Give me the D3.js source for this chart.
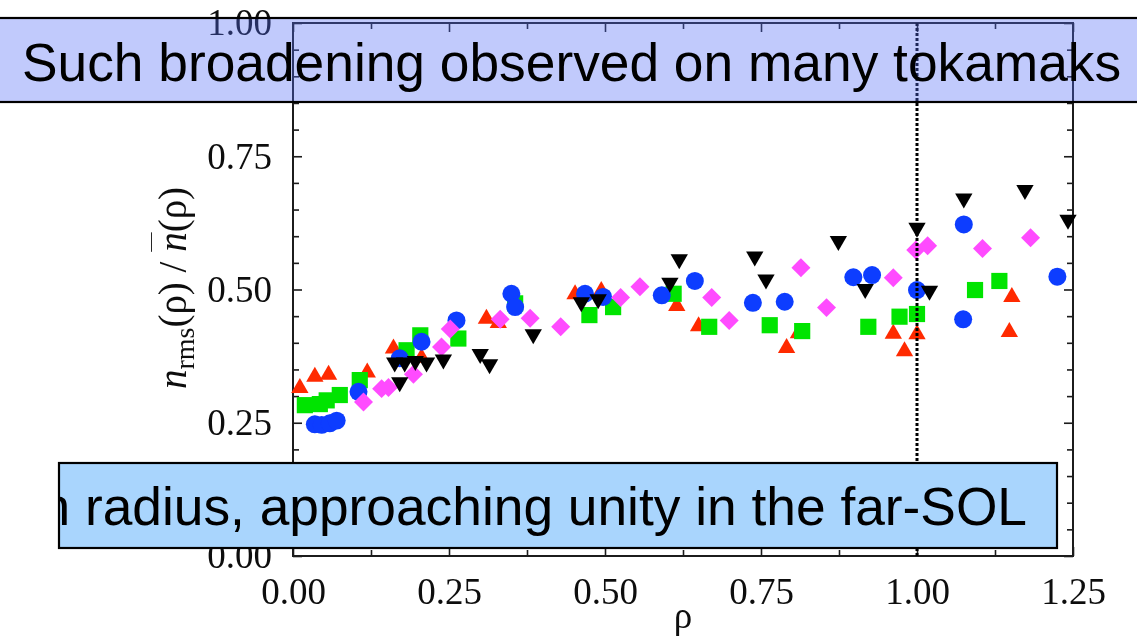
<!DOCTYPE html>
<html>
<head>
<meta charset="utf-8">
<script src="https://cdn.jsdelivr.net/npm/d3@7"></script>
<style>
  html, body { margin: 0; padding: 0; background: #ffffff; }
  svg { display: block; }
</style>
</head>
<body>
<svg id="chart" width="1137" height="639"></svg>
<script>
// Normalised density fluctuation level n_rms / n̄ versus normalised radius ρ
const xTicks = [0, 0.25, 0.5, 0.75, 1.0, 1.25];
const xTickLabels = ["0.00", "0.25", "0.50", "0.75", "1.00", "1.25"];
const yTicks = [0, 0.25, 0.5, 0.75, 1.0];
const yTickLabels = ["0.00", "0.25", "0.50", "0.75", "1.00"];
const separatrix = 1.0;

// [ρ, n_rms/n̄] pairs per device
const redTriangles = [
  [0.011, 0.317], [0.035, 0.338], [0.057, 0.342], [0.119, 0.346], [0.161, 0.391],
  [0.206, 0.374], [0.310, 0.447], [0.329, 0.439], [0.452, 0.493], [0.494, 0.499],
  [0.615, 0.471], [0.650, 0.433], [0.791, 0.392], [0.810, 0.420], [0.962, 0.419],
  [0.980, 0.386], [1.000, 0.418], [1.152, 0.488], [1.148, 0.422]
];
const greenSquares = [
  [0.019, 0.283], [0.043, 0.285], [0.054, 0.292], [0.075, 0.302], [0.107, 0.330],
  [0.182, 0.386], [0.204, 0.414], [0.265, 0.408], [0.356, 0.474], [0.475, 0.452],
  [0.513, 0.467], [0.610, 0.492], [0.667, 0.430], [0.764, 0.433], [0.816, 0.422],
  [0.922, 0.430], [0.972, 0.449], [1.000, 0.454], [1.093, 0.499], [1.132, 0.516]
];
const blueCircles = [
  [0.035, 0.247], [0.046, 0.246], [0.059, 0.249], [0.070, 0.254], [0.105, 0.308],
  [0.171, 0.371], [0.206, 0.402], [0.262, 0.442], [0.350, 0.492], [0.356, 0.467],
  [0.468, 0.492], [0.497, 0.486], [0.591, 0.489], [0.644, 0.516], [0.737, 0.475],
  [0.788, 0.477], [0.898, 0.523], [0.928, 0.527], [1.000, 0.499], [1.075, 0.622],
  [1.074, 0.444], [1.225, 0.524]
];
const magentaDiamonds = [
  [0.113, 0.289], [0.142, 0.314], [0.153, 0.316], [0.193, 0.341], [0.238, 0.392],
  [0.252, 0.426], [0.332, 0.444], [0.380, 0.446], [0.429, 0.430], [0.525, 0.485],
  [0.556, 0.505], [0.671, 0.485], [0.699, 0.442], [0.814, 0.541], [0.855, 0.466],
  [0.962, 0.522], [0.998, 0.574], [1.017, 0.582], [1.105, 0.577], [1.182, 0.597]
];
const blackTriangles = [
  [0.163, 0.361], [0.179, 0.361], [0.196, 0.364], [0.214, 0.361], [0.171, 0.324],
  [0.241, 0.367], [0.300, 0.377], [0.315, 0.358], [0.385, 0.414], [0.462, 0.474],
  [0.489, 0.480], [0.604, 0.511], [0.619, 0.555], [0.740, 0.560], [0.758, 0.517],
  [0.874, 0.589], [0.917, 0.499], [1.000, 0.614], [1.020, 0.496], [1.075, 0.669],
  [1.173, 0.685], [1.242, 0.629]
];

const topBannerText = "Such broadening observed on many tokamaks";
const bottomBannerText = "with radius, approaching unity in the far-SOL";

const svg = d3.select("#chart");
const plot = { left: 293, right: 1073, top: 23, bottom: 556 };

const x = d3.scaleLinear().domain([0, 1.25]).range([plot.left, plot.right]);
const y = d3.scaleLinear().domain([0, 1.0]).range([plot.bottom, plot.top]);

const serif = "'Liberation Serif', 'Times New Roman', serif";
const sans = "'Liberation Sans', Arial, sans-serif";
const frameColor = "#1a1a1a";

// the plotted figure is a slightly soft raster
svg.append("defs").append("filter").attr("id", "soft")
  .attr("x", "-5%").attr("y", "-5%").attr("width", "110%").attr("height", "110%")
  .append("feGaussianBlur").attr("stdDeviation", 0.55);

const chart = svg.append("g").attr("class", "chart").attr("filter", "url(#soft)");

// minor ticks
const xMinor = d3.range(0, 1.2501, 0.125).filter(v => !xTicks.some(t => Math.abs(t - v) < 1e-6));
const yMinor = d3.range(0, 1.0001, 0.05).filter(v => !yTicks.some(t => Math.abs(t - v) < 1e-6));

function styleAxis(g) {
  g.select(".domain").remove();
  g.selectAll("line").attr("stroke", frameColor).attr("stroke-width", 1.6);
  g.selectAll("text").attr("fill", "#111").attr("font-family", serif).attr("font-size", 37);
}

const fmtX = (d, i) => xTickLabels[i];
const fmtY = (d, i) => yTickLabels[i];

chart.append("g").attr("transform", `translate(0,${plot.bottom})`)
  .call(d3.axisBottom(x).tickValues(xTicks).tickFormat(fmtX).tickSizeInner(-9).tickSizeOuter(0).tickPadding(22))
  .call(styleAxis);
chart.append("g").attr("transform", `translate(0,${plot.bottom})`)
  .call(d3.axisBottom(x).tickValues(xMinor).tickFormat("").tickSizeInner(-6).tickSizeOuter(0))
  .call(styleAxis);
chart.append("g").attr("transform", `translate(0,${plot.top})`)
  .call(d3.axisTop(x).tickValues(xTicks).tickFormat("").tickSizeInner(-9).tickSizeOuter(0))
  .call(styleAxis);
chart.append("g").attr("transform", `translate(0,${plot.top})`)
  .call(d3.axisTop(x).tickValues(xMinor).tickFormat("").tickSizeInner(-6).tickSizeOuter(0))
  .call(styleAxis);
chart.append("g").attr("transform", `translate(${plot.left},0)`)
  .call(d3.axisLeft(y).tickValues(yTicks).tickFormat(fmtY).tickSizeInner(-9).tickSizeOuter(0).tickPadding(21))
  .call(styleAxis);
chart.append("g").attr("transform", `translate(${plot.left},0)`)
  .call(d3.axisLeft(y).tickValues(yMinor).tickFormat("").tickSizeInner(-6).tickSizeOuter(0))
  .call(styleAxis);
chart.append("g").attr("transform", `translate(${plot.right},0)`)
  .call(d3.axisRight(y).tickValues(yTicks).tickFormat("").tickSizeInner(-9).tickSizeOuter(0))
  .call(styleAxis);
chart.append("g").attr("transform", `translate(${plot.right},0)`)
  .call(d3.axisRight(y).tickValues(yMinor).tickFormat("").tickSizeInner(-6).tickSizeOuter(0))
  .call(styleAxis);

// frame
chart.append("rect")
  .attr("x", plot.left).attr("y", plot.top)
  .attr("width", plot.right - plot.left).attr("height", plot.bottom - plot.top)
  .attr("fill", "none").attr("stroke", frameColor).attr("stroke-width", 2);

// axis titles
chart.append("text")
  .attr("x", x(0.625)).attr("y", 628)
  .attr("text-anchor", "middle")
  .attr("font-family", serif).attr("font-size", 37).attr("fill", "#111")
  .text("ρ");

const yTitle = chart.append("text")
  .attr("transform", `translate(186,288) rotate(-90)`)
  .attr("text-anchor", "middle")
  .attr("font-family", serif).attr("font-size", 39).attr("fill", "#111");
yTitle.append("tspan").attr("font-style", "italic").text("n");
yTitle.append("tspan").attr("font-size", 28).attr("dy", 8).text("rms");
yTitle.append("tspan").attr("dy", -8).text("(ρ) / ");
yTitle.append("tspan").attr("font-style", "italic").style("text-decoration", "overline").text("n");
yTitle.append("tspan").text("(ρ)");

// markers
const series = [
  { data: redTriangles, type: d3.symbolTriangle, size: 130, rot: 0, color: "#ff2a00", dy: 1 },
  { data: greenSquares, type: d3.symbolSquare, size: 262, rot: 0, color: "#00e400", dy: 0 },
  { data: blueCircles, type: d3.symbolCircle, size: 254, rot: 0, color: "#0a3cff", dy: 0 },
  { data: magentaDiamonds, type: d3.symbolSquare, size: 180, rot: 45, color: "#ff4cff", dy: 0 },
  { data: blackTriangles, type: d3.symbolTriangle, size: 130, rot: 180, color: "#000000", dy: -1 }
];

series.forEach(s => {
  const path = d3.symbol().type(s.type).size(s.size)();
  chart.append("g").selectAll("path")
    .data(s.data)
    .join("path")
    .attr("d", path)
    .attr("transform", d => `translate(${x(d[0])},${y(d[1]) + s.dy}) rotate(${s.rot})`)
    .attr("fill", s.color);
});

// separatrix
chart.append("line")
  .attr("x1", x(separatrix)).attr("x2", x(separatrix))
  .attr("y1", plot.top).attr("y2", plot.bottom)
  .attr("stroke", "#000").attr("stroke-width", 3).attr("stroke-dasharray", "3,2");

// top banner (translucent)
const topBanner = svg.append("g");
topBanner.append("rect")
  .attr("x", -4).attr("y", 18).attr("width", 1145).attr("height", 84)
  .attr("fill", "rgb(82,108,246)").attr("fill-opacity", 0.36)
  .attr("stroke", "#000").attr("stroke-width", 2.2);
topBanner.append("text")
  .attr("x", 22).attr("y", 81)
  .attr("font-family", sans).attr("font-size", 53.3).attr("fill", "#000")
  .text(topBannerText);

// bottom banner (opaque, text clipped at its left edge)
const bottomBanner = svg.append("g");
svg.select("defs").append("clipPath").attr("id", "bottomClip")
  .append("rect").attr("x", 60).attr("y", 463).attr("width", 996).attr("height", 85);
bottomBanner.append("rect")
  .attr("x", 59).attr("y", 463).attr("width", 998).attr("height", 85)
  .attr("fill", "#a9d5fd")
  .attr("stroke", "#000").attr("stroke-width", 2.2);
bottomBanner.append("text")
  .attr("clip-path", "url(#bottomClip)")
  .attr("x", 1027).attr("y", 525)
  .attr("text-anchor", "end")
  .attr("font-family", sans).attr("font-size", 53.3).attr("fill", "#000")
  .text(bottomBannerText);
</script>
</body>
</html>
